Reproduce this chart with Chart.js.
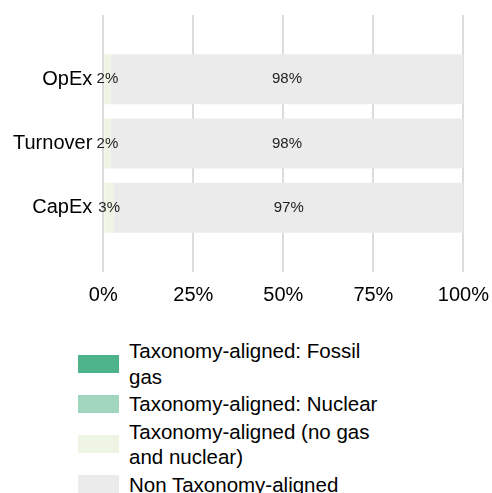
<!DOCTYPE html>
<html>
<head>
<meta charset="utf-8">
<script src="https://cdn.jsdelivr.net/npm/chart.js@4.4.1/dist/chart.umd.min.js"></script>
<style>
  body { margin: 0; background: #fff; font-family: "Liberation Sans", Arial, sans-serif; }
  #wrap { width: 492px; height: 493px; overflow: hidden; }
  #box { position: relative; width: 492px; height: 310px; }
  #legend { list-style: none; margin: 28px 0 0 78px; padding: 0; }
  #legend li { display: flex; align-items: center; margin-bottom: 2px; }
  #legend .sw { width: 41px; height: 18px; flex: none; margin-right: 10px; }
  #legend .tx { width: 255px; font-size: 20.5px; line-height: 25.5px; color: #000; }
</style>
</head>
<body>
<div id="wrap">
  <div id="box"><canvas id="taxonomy"></canvas></div>
  <ul id="legend"></ul>
</div>
<script>
const categories = ["OpEx", "Turnover", "CapEx"];
const fossilGas = [0, 0, 0];
const nuclear = [0, 0, 0];
const alignedOther = [2, 2, 3];
const nonAligned = [98, 98, 97];
const xTicks = [0, 25, 50, 75, 100];
const seriesNames = [
  "Taxonomy-aligned: Fossil gas",
  "Taxonomy-aligned: Nuclear",
  "Taxonomy-aligned (no gas and nuclear)",
  "Non Taxonomy-aligned"
];
const seriesColors = ["#4db38a", "#a1d5bd", "#eef5e4", "#ebebeb"];

// empty slots at both ends keep half a row of room above and below the bars
const pad = arr => [null, ...arr, null];

const valueLabels = {
  id: "valueLabels",
  afterDatasetsDraw(chart) {
    const ctx = chart.ctx;
    ctx.save();
    ctx.font = "15px 'Liberation Sans', Arial, sans-serif";
    ctx.fillStyle = "#222";
    ctx.textAlign = "center";
    ctx.textBaseline = "middle";
    chart.data.datasets.forEach((ds, i) => {
      chart.getDatasetMeta(i).data.forEach((bar, j) => {
        const v = ds.data[j];
        if (!v) return;
        const { x, y, base } = bar.getProps(["x", "y", "base"], true);
        ctx.fillText(v + "%", (x + base) / 2, y);
      });
    });
    ctx.restore();
  }
};

const series = [fossilGas, nuclear, alignedOther, nonAligned];

const chart = new Chart(document.getElementById("taxonomy"), {
  type: "bar",
  data: {
    labels: ["", ...categories, ""],
    datasets: series.map((values, i) => ({
      label: seriesNames[i],
      data: pad(values),
      backgroundColor: seriesColors[i],
      borderWidth: 0,
      barPercentage: 0.78,
      categoryPercentage: 1
    }))
  },
  options: {
    indexAxis: "y",
    responsive: true,
    maintainAspectRatio: false,
    animation: false,
    layout: { padding: { left: 10, top: 0, right: 0, bottom: 0 } },
    plugins: {
      legend: { display: false },
      tooltip: { enabled: false }
    },
    scales: {
      x: {
        stacked: true,
        min: 0,
        max: 100,
        afterBuildTicks: axis => { axis.ticks = xTicks.map(v => ({ value: v })); },
        ticks: {
          callback: value => value + "%",
          color: "#000",
          padding: 3,
          font: { family: "'Liberation Sans', Arial, sans-serif", size: 20 }
        },
        grid: { color: "#dcdcdc", lineWidth: 2, drawTicks: true, tickLength: 8, tickColor: "rgba(0,0,0,0)" },
        border: { display: false }
      },
      y: {
        stacked: true,
        offset: false,
        ticks: {
          color: "#000",
          padding: 3,
          font: { family: "'Liberation Sans', Arial, sans-serif", size: 20 }
        },
        grid: { display: false, drawTicks: true, tickLength: 8 },
        border: { display: false }
      }
    }
  },
  plugins: [valueLabels]
});

const legend = document.getElementById("legend");
chart.data.datasets.forEach(ds => {
  const li = document.createElement("li");
  li.innerHTML = '<span class="sw" style="background:' + ds.backgroundColor + '"></span><span class="tx"></span>';
  li.querySelector(".tx").textContent = ds.label;
  legend.appendChild(li);
});
</script>
</body>
</html>
